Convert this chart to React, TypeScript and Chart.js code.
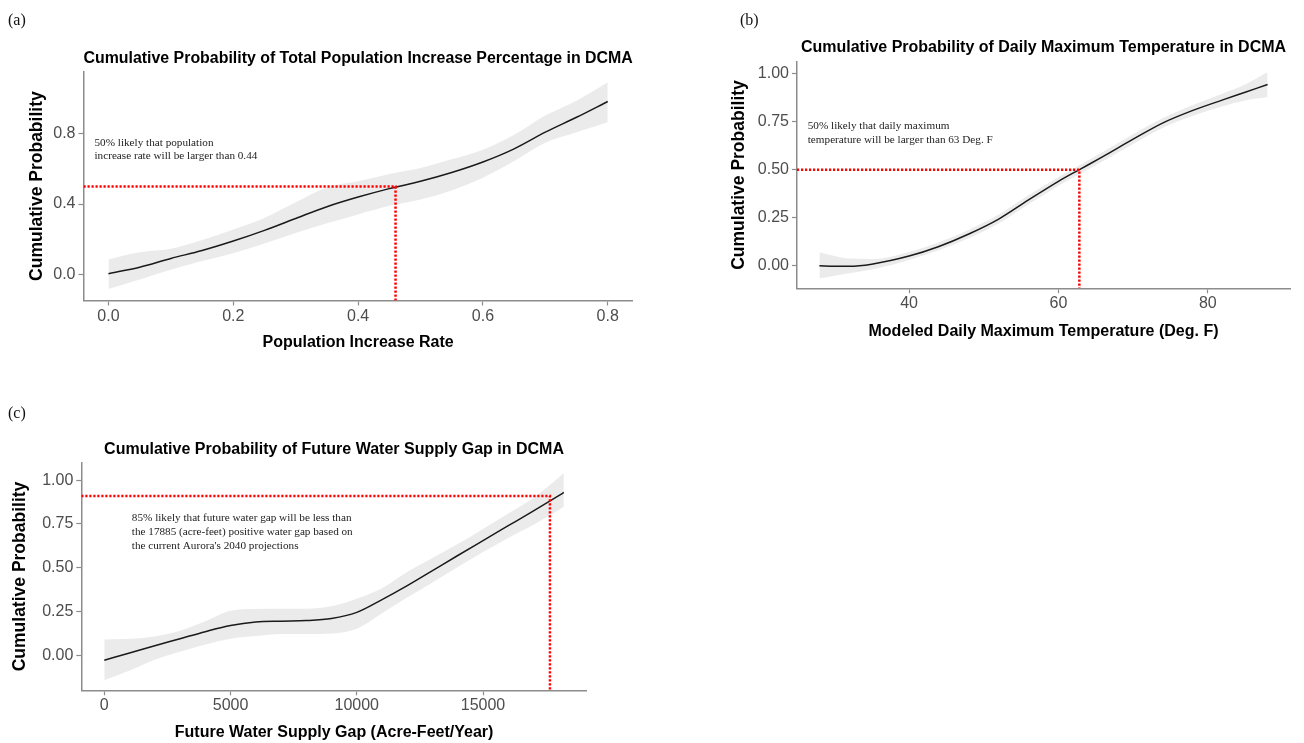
import React, { useEffect, useRef } from "react";
import { Chart, registerables } from "chart.js";

Chart.register(...registerables);
Chart.defaults.font.family = '"Liberation Sans", Arial, Helvetica, sans-serif';

// ---------- Panel (a): population increase rate ----------
const A_TITLE = "Cumulative Probability of Total Population Increase Percentage in DCMA";
const A_XLABEL = "Population Increase Rate";
const A_X = [0, 0.05, 0.1, 0.15, 0.2, 0.25, 0.3, 0.35, 0.4, 0.45, 0.5, 0.55, 0.6, 0.65, 0.7, 0.75, 0.8];
const A_LINE = [0.003, 0.04, 0.09, 0.135, 0.189, 0.25, 0.318, 0.385, 0.44, 0.488, 0.53, 0.58, 0.64, 0.715, 0.81, 0.895, 0.985];
const A_UPPER = [0.085, 0.125, 0.145, 0.195, 0.255, 0.32, 0.41, 0.495, 0.53, 0.572, 0.606, 0.655, 0.71, 0.795, 0.905, 0.99, 1.095];
const A_LOWER = [-0.085, -0.03, 0.025, 0.075, 0.12, 0.175, 0.235, 0.29, 0.341, 0.39, 0.426, 0.478, 0.55, 0.645, 0.75, 0.81, 0.867];
const A_X_TICKS = [0, 0.2, 0.4, 0.6, 0.8];
const A_Y_TICKS = [0, 0.4, 0.8];
const A_X_RANGE = [-0.04, 0.84];
const A_Y_RANGE = [-0.15, 1.155];
const A_REF = [0.46, 0.5];
const A_NOTE = ["50% likely that population", "increase rate will be larger than 0.44"];
const A_NOTE_AT = [-0.0224, 0.748];

// ---------- Panel (b): daily maximum temperature ----------
const B_TITLE = "Cumulative Probability of Daily Maximum Temperature in DCMA";
const B_XLABEL = "Modeled Daily Maximum Temperature (Deg. F)";
const B_X = [28, 30, 32, 35, 40, 44, 48, 52, 56, 60, 63, 66, 70, 74, 78, 82, 85, 88];
const B_LINE = [0.0, -0.003, -0.003, 0.008, 0.05, 0.1, 0.165, 0.243, 0.343, 0.44, 0.505, 0.57, 0.66, 0.745, 0.81, 0.865, 0.905, 0.945];
const B_UPPER = [0.07, 0.05, 0.037, 0.035, 0.072, 0.122, 0.188, 0.267, 0.367, 0.463, 0.528, 0.594, 0.685, 0.77, 0.838, 0.898, 0.945, 1.01];
const B_LOWER = [-0.067, -0.052, -0.04, -0.02, 0.03, 0.08, 0.143, 0.22, 0.32, 0.417, 0.482, 0.546, 0.635, 0.72, 0.782, 0.832, 0.862, 0.878];
const B_X_TICKS = [40, 60, 80];
const B_Y_TICKS = [0, 0.25, 0.5, 0.75, 1.0];
const B_X_RANGE = [25, 91];
const B_Y_RANGE = [-0.118, 1.064];
const B_REF = [62.8, 0.5];
const B_NOTE = ["50% likely that daily maximum", "temperature will be larger than 63 Deg. F"];
const B_NOTE_AT = [26.44, 0.729];

// ---------- Panel (c): future water supply gap ----------
const C_TITLE = "Cumulative Probability of Future Water Supply Gap in DCMA";
const C_XLABEL = "Future Water Supply Gap (Acre-Feet/Year)";
const C_X = [0, 1000, 2000, 3000, 4000, 5000, 6000, 7000, 8000, 9000, 10000, 11000, 12000, 13000, 14000, 15000, 16000, 17000, 18000, 18200];
const C_LINE = [-0.028, 0.013, 0.055, 0.095, 0.135, 0.17, 0.19, 0.195, 0.198, 0.21, 0.245, 0.318, 0.398, 0.484, 0.57, 0.655, 0.74, 0.825, 0.912, 0.93];
const C_UPPER = [0.09, 0.094, 0.108, 0.14, 0.195, 0.255, 0.265, 0.266, 0.266, 0.28, 0.323, 0.383, 0.475, 0.555, 0.635, 0.722, 0.81, 0.9, 1.015, 1.042];
const C_LOWER = [-0.143, -0.087, -0.025, 0.02, 0.062, 0.095, 0.11, 0.122, 0.122, 0.125, 0.152, 0.24, 0.33, 0.416, 0.504, 0.59, 0.67, 0.745, 0.83, 0.848];
const C_X_TICKS = [0, 5000, 10000, 15000];
const C_Y_TICKS = [0, 0.25, 0.5, 0.75, 1.0];
const C_X_RANGE = [-910, 19110];
const C_Y_RANGE = [-0.2, 1.1];
const C_REF = [17650, 0.91];
const C_NOTE = [
  "85% likely that future water gap will be less than",
  "the 17885 (acre-feet) positive water gap based on",
  "the current Aurora's 2040 projections",
];
const C_NOTE_AT = [1092, 0.785];

const AXIS_GREY = "#8c8c8c";
const TICK_TEXT = "#4d4d4d";
const BAND = "#ebebeb";

const notePlugin = {
  id: "note",
  afterDatasetsDraw(chart: any, _args: any, opts: any) {
    const { ctx, scales } = chart;
    const x = scales.x.getPixelForValue(opts.at[0]);
    const y0 = scales.y.getPixelForValue(opts.at[1]);
    ctx.save();
    ctx.font = `${opts.size}px "Liberation Serif", "Times New Roman", Times, serif`;
    ctx.fillStyle = "#222";
    ctx.textAlign = "left";
    ctx.textBaseline = "middle";
    opts.lines.forEach((t: string, i: number) => ctx.fillText(t, x, y0 + i * opts.lh));
    ctx.restore();
  },
};

type Geom = {
  w: number; h: number; padL: number; padR: number;
  titleTop: number; titleBottom: number;
  yW: number; yTitlePT: number; xH: number; xTitlePB: number; noteLH: number;
};

function pts(xs: number[], ys: number[]) {
  return xs.map((x, i) => ({ x, y: ys[i] }));
}

function makeConfig(d: any, g: Geom, xFmt: (v: number) => string, yFmt: (v: number) => string): any {
  const refPts = [
    { x: d.xr[0], y: d.ref[1] },
    { x: d.ref[0], y: d.ref[1] },
    { x: d.ref[0], y: d.yr[0] },
  ];
  return {
    type: "line",
    data: {
      datasets: [
        { data: refPts, borderColor: "#ff0000", borderWidth: 2.5, borderDash: [2.2, 1.8], borderCapStyle: "butt", pointRadius: 0, fill: false, tension: 0, order: 0 },
        { data: pts(d.x, d.line), borderColor: "#1a1a1a", borderWidth: 1.5, pointRadius: 0, fill: false, cubicInterpolationMode: "monotone", order: 1 },
        { data: pts(d.x, d.lower), borderWidth: 0, borderColor: "rgba(0,0,0,0)", pointRadius: 0, fill: false, cubicInterpolationMode: "monotone", order: 3 },
        { data: pts(d.x, d.upper), borderWidth: 0, borderColor: "rgba(0,0,0,0)", backgroundColor: BAND, pointRadius: 0, fill: "-1", cubicInterpolationMode: "monotone", order: 2 },
      ],
    },
    plugins: [notePlugin],
    options: {
      animation: false,
      responsive: false,
      maintainAspectRatio: false,
      devicePixelRatio: 1,
      events: [],
      layout: { padding: { left: g.padL, right: g.padR, top: 0, bottom: 0 } },
      plugins: {
        legend: { display: false },
        tooltip: { enabled: false },
        title: {
          display: true, text: d.title, fullSize: false, color: "#000",
          font: { size: 16, weight: "bold", lineHeight: 1.2 },
          padding: { top: g.titleTop, bottom: g.titleBottom },
        },
        note: { at: d.noteAt, lines: d.note, size: 11.2, lh: g.noteLH },
      },
      scales: {
        x: {
          type: "linear", min: d.xr[0], max: d.xr[1],
          afterFit: (s: any) => { s.height = g.xH; },
          afterBuildTicks: (s: any) => { s.ticks = d.xt.map((v: number) => ({ value: v })); },
          ticks: { callback: (v: any) => xFmt(Number(v)), color: TICK_TEXT, font: { size: 16, lineHeight: 1.2 }, padding: 1, maxRotation: 0, autoSkip: false },
          grid: { drawOnChartArea: false, drawTicks: true, tickLength: 5, tickColor: AXIS_GREY, tickWidth: 1.2 },
          border: { display: true, color: AXIS_GREY, width: 1.5 },
          title: { display: true, text: d.xlabel, color: "#000", font: { size: 16, weight: "bold", lineHeight: 1.2 }, padding: { top: 0, bottom: g.xTitlePB } },
        },
        y: {
          type: "linear", min: d.yr[0], max: d.yr[1],
          afterFit: (s: any) => { s.width = g.yW; },
          afterBuildTicks: (s: any) => { s.ticks = d.yt.map((v: number) => ({ value: v })); },
          ticks: { callback: (v: any) => yFmt(Number(v)), color: TICK_TEXT, font: { size: 16, lineHeight: 1.2 }, padding: 3, autoSkip: false },
          grid: { drawOnChartArea: false, drawTicks: true, tickLength: 5, tickColor: AXIS_GREY, tickWidth: 1.2 },
          border: { display: true, color: AXIS_GREY, width: 1.5 },
          title: { display: true, text: "Cumulative Probability", color: "#000", font: { size: 17.5, weight: "bold", lineHeight: 1.2 }, padding: { top: g.yTitlePT, bottom: 0 } },
        },
      },
    },
  };
}

function Panel({ left, top, data, geom, xFmt, yFmt }: any) {
  const ref = useRef<HTMLCanvasElement | null>(null);
  useEffect(() => {
    if (!ref.current) return;
    const chart = new Chart(ref.current, makeConfig(data, geom, xFmt, yFmt));
    return () => chart.destroy();
  }, []);
  return (
    <canvas
      ref={ref}
      width={geom.w}
      height={geom.h}
      style={{ position: "absolute", left, top, width: geom.w, height: geom.h, display: "block" }}
    />
  );
}

const labelStyle: React.CSSProperties = {
  position: "absolute",
  fontFamily: '"Liberation Serif", "Times New Roman", Times, serif',
  fontSize: 16,
  lineHeight: "16px",
  color: "#111",
  margin: 0,
};

export default function App() {
  const dataA = { title: A_TITLE, xlabel: A_XLABEL, x: A_X, line: A_LINE, upper: A_UPPER, lower: A_LOWER, xt: A_X_TICKS, yt: A_Y_TICKS, xr: A_X_RANGE, yr: A_Y_RANGE, ref: A_REF, note: A_NOTE, noteAt: A_NOTE_AT };
  const dataB = { title: B_TITLE, xlabel: B_XLABEL, x: B_X, line: B_LINE, upper: B_UPPER, lower: B_LOWER, xt: B_X_TICKS, yt: B_Y_TICKS, xr: B_X_RANGE, yr: B_Y_RANGE, ref: B_REF, note: B_NOTE, noteAt: B_NOTE_AT };
  const dataC = { title: C_TITLE, xlabel: C_XLABEL, x: C_X, line: C_LINE, upper: C_UPPER, lower: C_LOWER, xt: C_X_TICKS, yt: C_Y_TICKS, xr: C_X_RANGE, yr: C_Y_RANGE, ref: C_REF, note: C_NOTE, noteAt: C_NOTE_AT };

  const geomA: Geom = { w: 650, h: 380, padL: 0, padR: 17.3, titleTop: 49.4, titleBottom: 3.1, yW: 83.5, yTitlePT: 26.7, xH: 79.5, xTitlePB: 27.4, noteLH: 13.4 };
  const geomB: Geom = { w: 654, h: 380, padL: 0, padR: 14, titleTop: 38.4, titleBottom: 4.1, yW: 147, yTitlePT: 78.7, xH: 91.7, xTitlePB: 38.4, noteLH: 14.3 };
  const geomC: Geom = { w: 650, h: 353, padL: 0, padR: 63.2, titleTop: 50.4, titleBottom: 3.1, yW: 81.3, yTitlePT: 9.5, xH: 52.7, xTitlePB: 0.4, noteLH: 14.2 };

  const f1 = (v: number) => v.toFixed(1);
  const f2 = (v: number) => v.toFixed(2);
  const fi = (v: number) => String(Math.round(v));

  return (
    <div style={{ position: "absolute", left: 0, top: 0, width: 1304, height: 743, background: "#fff", overflow: "hidden" }}>
      <Panel left={0} top={0} data={dataA} geom={geomA} xFmt={f1} yFmt={f1} />
      <Panel left={650} top={0} data={dataB} geom={geomB} xFmt={fi} yFmt={f2} />
      <Panel left={0} top={390} data={dataC} geom={geomC} xFmt={fi} yFmt={f2} />
      <div style={{ ...labelStyle, left: 8, top: 12 }}>(a)</div>
      <div style={{ ...labelStyle, left: 740, top: 12 }}>(b)</div>
      <div style={{ ...labelStyle, left: 8, top: 405 }}>(c)</div>
    </div>
  );
}
